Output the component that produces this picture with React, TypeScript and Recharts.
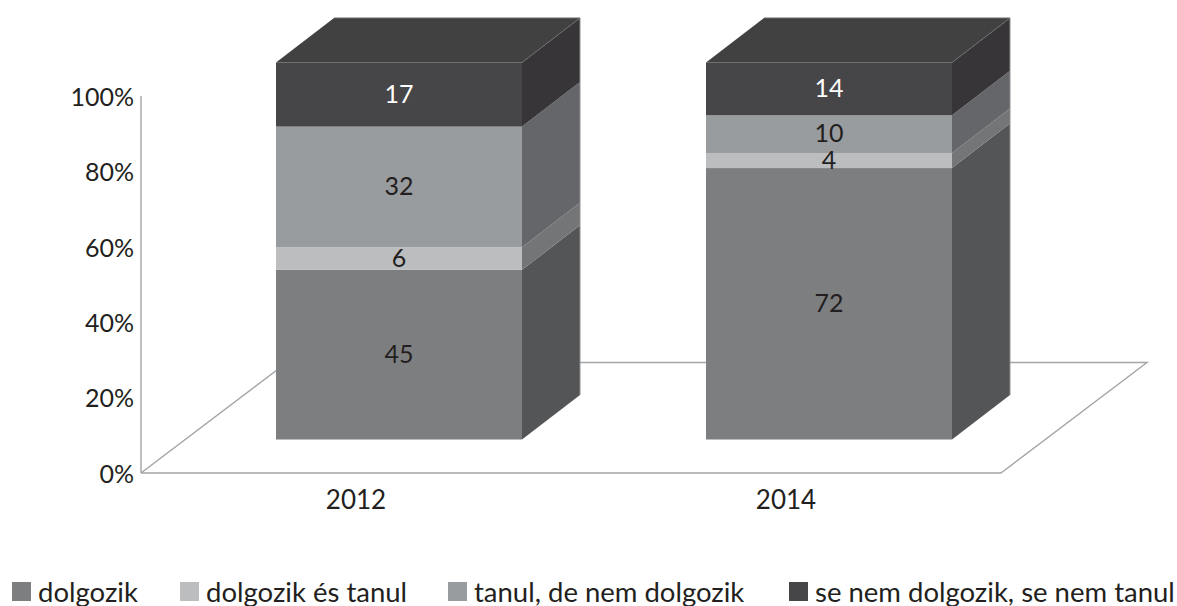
import React from "react";
import { BarChart, Bar, XAxis, YAxis, Legend, LabelList, usePlotArea } from "recharts";

const years = ["2012", "2014"];
const dolgozik = [45, 72];
const dolgozikEsTanul = [6, 4];
const tanul = [32, 10];
const seNem = [17, 14];
const yTicks = [0, 20, 40, 60, 80, 100];

const rows = years.map((year, i) => ({
  year,
  dolgozik: dolgozik[i],
  dolgozikEsTanul: dolgozikEsTanul[i],
  tanul: tanul[i],
  seNem: seNem[i],
}));

const FONT = "Lato, Carlito, sans-serif";
const INK = "#231f20";
const AXIS = "#a3a4a6";
const SHIFT_X = 43;
const SHIFT_Y = -33.5;
const DEPTH_X = 58;
const DEPTH_Y = 44.5;
const FLOOR_X = 146;
const FLOOR_Y = 110.5;
const LEGEND_ITEM_WIDTHS = [168, 268, 341, 388];

const Floor = () => {
  const area = usePlotArea();
  if (!area) return null;
  const left = area.x;
  const right = area.x + area.width;
  const bottom = area.y + area.height;
  const d = `M${left} ${bottom}L${left + FLOOR_X} ${bottom - FLOOR_Y}L${right + FLOOR_X} ${bottom - FLOOR_Y}L${right} ${bottom}`;
  return <path d={d} fill="none" stroke={AXIS} strokeWidth={1.4} />;
};

const block = (sideFill: string, isTop: boolean) => (props: any) => {
  const { x, y, width, height, fill } = props;
  const l = x + SHIFT_X;
  const r = l + width;
  const t = y + SHIFT_Y;
  const b = t + height;
  const side = `M${r} ${t}L${r + DEPTH_X} ${t - DEPTH_Y}L${r + DEPTH_X} ${b - DEPTH_Y}L${r} ${b}Z`;
  return (
    <g>
      <path d={side} fill={sideFill} />
      <rect x={l} y={t} width={width} height={height} fill={fill} />
      <line x1={r + DEPTH_X} y1={t - DEPTH_Y} x2={r + DEPTH_X} y2={b - DEPTH_Y} stroke="#8f9092" strokeWidth={1} />
      {isTop && (
        <>
          <path d={`M${l} ${t}L${l + DEPTH_X} ${t - DEPTH_Y}L${r + DEPTH_X} ${t - DEPTH_Y}L${r} ${t}Z`} fill="#414141" />
          <path d={`M${l + DEPTH_X} ${t - DEPTH_Y}L${r + DEPTH_X} ${t - DEPTH_Y}L${r} ${t}`} fill="none" stroke="#6b6b6d" strokeWidth={1} />
        </>
      )}
    </g>
  );
};

const label = (color: string) => (props: any) => {
  const { x, y, width, height, value } = props;
  return (
    <text
      x={x + width / 2 + SHIFT_X}
      y={y + height / 2 + SHIFT_Y - 2}
      textAnchor="middle"
      dominantBaseline="central"
      fontFamily={FONT}
      fontSize={25}
      fill={color}
    >
      {value}
    </text>
  );
};

const LegendBox = (props: any) => (
  <div style={{ display: "flex", height: 44, alignItems: "center", paddingLeft: 12, fontFamily: FONT, fontSize: 27.5, color: INK, whiteSpace: "nowrap" }}>
    {(props.payload || []).map((p: any, i: number) => (
      <span key={p.value} style={{ display: "inline-flex", alignItems: "center", width: LEGEND_ITEM_WIDTHS[i] }}>
        <span style={{ width: 19, height: 19, background: p.color, marginRight: 7, display: "inline-block" }} />
        {p.value}
      </span>
    ))}
  </div>
);

export default function App() {
  return (
    <div style={{ position: "absolute", left: 0, top: 0, width: 1177, height: 606, background: "#fff" }}>
      <BarChart width={1177} height={606} data={rows} margin={{ top: 96, right: 176, bottom: 0, left: 0 }} barCategoryGap={0} barSize={246}>
        <Floor />
        <XAxis
          dataKey="year"
          axisLine={{ stroke: AXIS, strokeWidth: 1.6 }}
          tickLine={false}
          tickMargin={12}
          height={89}
          tick={{ fontFamily: FONT, fontSize: 26, fill: INK }}
        />
        <YAxis
          width={141}
          domain={[0, 100]}
          ticks={yTicks}
          tickFormatter={(v: number) => `${v}%`}
          axisLine={{ stroke: AXIS, strokeWidth: 1.4 }}
          tickLine={false}
          tickMargin={1}
          tick={{ fontFamily: FONT, fontSize: 25, fill: INK, dy: 1 }}
        />
        <Legend content={LegendBox} itemSorter={null as any} verticalAlign="bottom" wrapperStyle={{ left: 0, width: 1177, bottom: -7 }} />
        <Bar dataKey="dolgozik" name="dolgozik" stackId="a" fill="#7d7e80" shape={block("#545557", false)} isAnimationActive={false}>
          <LabelList dataKey="dolgozik" content={label(INK)} />
        </Bar>
        <Bar dataKey="dolgozikEsTanul" name="dolgozik és tanul" stackId="a" fill="#bcbdbf" shape={block("#747577", false)} isAnimationActive={false}>
          <LabelList dataKey="dolgozikEsTanul" content={label(INK)} />
        </Bar>
        <Bar dataKey="tanul" name="tanul, de nem dolgozik" stackId="a" fill="#999c9e" shape={block("#65666a", false)} isAnimationActive={false}>
          <LabelList dataKey="tanul" content={label(INK)} />
        </Bar>
        <Bar dataKey="seNem" name="se nem dolgozik, se nem tanul" stackId="a" fill="#464547" shape={block("#373537", true)} isAnimationActive={false}>
          <LabelList dataKey="seNem" content={label("#ffffff")} />
        </Bar>
      </BarChart>
    </div>
  );
}
